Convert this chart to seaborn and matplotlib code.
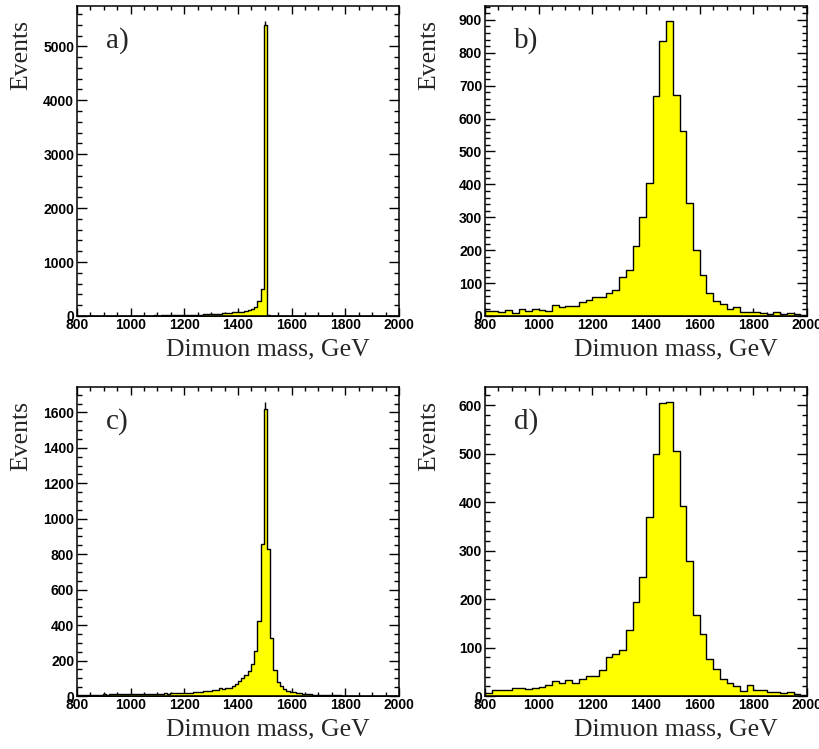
import numpy as np
import pandas as pd
import matplotlib
matplotlib.use("Agg")
import matplotlib.pyplot as plt
from matplotlib.ticker import MultipleLocator
import seaborn as sns

# Binning: 12 GeV bins for a) and c), 25 GeV bins for b) and d)
fine_edges = np.arange(800, 2000 + 12, 12)
coarse_edges = np.arange(800, 2000 + 25, 25)

# Events per bin, 800-2000 GeV
events_a = [2, 3, 2, 4, 3, 3, 4, 3, 5, 4,
            4, 5, 4, 6, 5, 6, 5, 7, 6, 7,
            8, 7, 9, 8, 10, 9, 11, 10, 12, 13,
            12, 14, 15, 14, 17, 16, 19, 22, 20, 33,
            28, 31, 37, 43, 43, 50, 50, 62, 68, 68,
            74, 80, 87, 105, 124, 173, 280, 501, 5400, 18,
            5, 3, 2, 2, 1, 1, 1, 1, 0, 1,
            0, 1, 0, 0, 1, 0, 0, 0, 1, 0,
            0, 0, 0, 1, 0, 0, 0, 0, 0, 0,
            1, 0, 0, 0, 0, 0, 0, 0, 0, 0]

events_b = [15, 14, 12, 17, 10, 20, 14, 22, 17, 14,
            32, 27, 30, 29, 43, 48, 58, 57, 71, 78,
            120, 141, 213, 301, 403, 667, 837, 897, 670, 562,
            344, 202, 126, 71, 46, 37, 21, 28, 11, 12,
            13, 8, 7, 11, 6, 9, 6, 4]

events_c = [5, 6, 5, 7, 6, 8, 7, 8, 9, 8,
            9, 10, 9, 11, 10, 12, 11, 13, 12, 12,
            12, 13, 12, 14, 13, 12, 14, 15, 14, 15,
            15, 16, 15, 17, 17, 19, 20, 22, 22, 26,
            26, 30, 34, 32, 43, 38, 43, 47, 56, 68,
            86, 99, 118, 141, 178, 253, 422, 859, 1620, 831,
            325, 146, 81, 56, 41, 30, 24, 21, 19, 17,
            13, 11, 9, 7, 6, 5, 5, 4, 4, 3,
            3, 3, 2, 2, 2, 2, 1, 1, 1, 1,
            1, 1, 1, 1, 1, 0, 1, 0, 1, 0]

events_d = [7, 12, 12, 12, 17, 16, 14, 17, 19, 22,
            30, 27, 32, 26, 35, 41, 42, 54, 80, 86,
            95, 137, 193, 246, 370, 499, 605, 607, 506, 392,
            278, 167, 127, 76, 55, 36, 26, 20, 11, 23,
            12, 12, 9, 8, 6, 8, 4, 3]

panel_tags = ["a)", "b)", "c)", "d)"]
x_title = "Dimuon mass, GeV"
y_title = "Events"

sns.set_style("ticks")
plt.rcParams.update({
    "font.family": ["Liberation Sans", "DejaVu Sans"],
    "axes.linewidth": 1.1,
    "axes.edgecolor": "black",
    "xtick.direction": "in",
    "ytick.direction": "in",
    "xtick.top": True,
    "ytick.right": True,
    "xtick.color": "black",
    "ytick.color": "black",
})

W, H = 820, 749
fig = plt.figure(figsize=(W / 100, H / 100), dpi=100)

# (left, top, right, bottom) of each frame in pixels
frames = [(77, 6, 399, 316), (485, 6, 807, 316),
          (77, 387, 399, 696), (485, 387, 807, 696)]

panels = [
    (events_a, fine_edges, True, 1000, 200),
    (events_b, coarse_edges, False, 100, 20),
    (events_c, fine_edges, True, 200, 50),
    (events_d, coarse_edges, False, 100, 20),
]

serif = ["Liberation Serif", "DejaVu Serif"]

for (l, t, r, b), (vals, edges, with_err, ymaj, ymin), tag in zip(frames, panels, panel_tags):
    ax = fig.add_axes([l / W, 1 - b / H, (r - l) / W, (b - t) / H])
    vals = np.asarray(vals, dtype=float)
    centers = 0.5 * (edges[:-1] + edges[1:])
    df = pd.DataFrame({"mass": centers, "events": vals})
    sns.histplot(data=df, x="mass", weights="events", bins=edges.tolist(),
                 element="step", fill=True, color="#ffff00", alpha=1.0,
                 edgecolor="black", linewidth=1.0, ax=ax)
    top = vals.max()
    if with_err:
        k = int(np.argmax(vals))
        ax.vlines(centers[k], vals[k], vals[k] + np.sqrt(vals[k]),
                  color="black", linewidth=1.0)
        top = top + np.sqrt(top)
    ax.set_xlim(800, 2000)
    ax.set_ylim(0, 1.05 * top)
    ax.set_xlabel("")
    ax.set_ylabel("")
    ax.xaxis.set_major_locator(MultipleLocator(200))
    ax.xaxis.set_minor_locator(MultipleLocator(50))
    ax.yaxis.set_major_locator(MultipleLocator(ymaj))
    ax.yaxis.set_minor_locator(MultipleLocator(ymin))
    ax.tick_params(axis="x", which="major", length=6, width=1.0, pad=1.5)
    ax.tick_params(axis="x", which="minor", length=3, width=1.0, top=True)
    ax.tick_params(axis="y", which="major", length=7, width=1.0, pad=2)
    ax.tick_params(axis="y", which="minor", length=3.5, width=1.0, right=True)
    for lab in ax.get_xticklabels() + ax.get_yticklabels():
        lab.set_fontweight("bold")
        lab.set_fontsize(10)
    for sp in ax.spines.values():
        sp.set_visible(True)

    # axis titles and panel tag
    fig.text((r - 29) / W, 1 - (b + 39) / H, x_title, ha="right", va="baseline",
             fontsize=18.5, family=serif)
    fig.text((l - 56) / W, 1 - (t + 14) / H, y_title, ha="center", va="top",
             rotation=90, fontsize=18.5, family=serif)
    fig.text((l + 29) / W, 1 - (t + 42) / H, tag, ha="left", va="baseline",
             fontsize=21, family=serif)

fig.savefig("out.png", dpi=100)
